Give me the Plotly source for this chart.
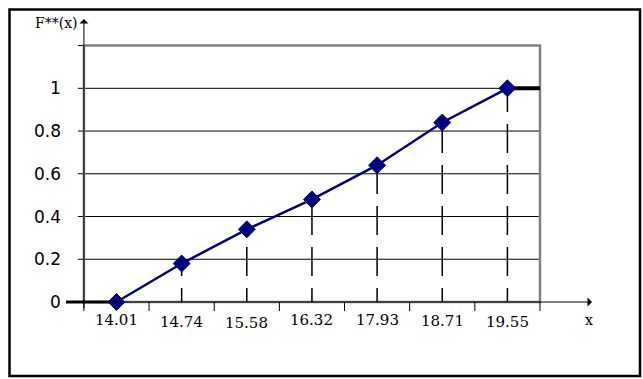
import plotly.graph_objects as go

# ---- data ----
x_labels = ["14.01", "14.74", "15.58", "16.32", "17.93", "18.71", "19.55"]
F_values = [0.0, 0.18, 0.34, 0.48, 0.64, 0.84, 1.0]
y_ticks = [0, 0.2, 0.4, 0.6, 0.8, 1]
y_tick_text = ["0", "0.2", "0.4", "0.6", "0.8", "1"]
y_top = 1.2
y_title = "F**(x)"
x_title = "x"

# ---- geometry (pixels of the 643x379 canvas) ----
W, H = 643, 379
X0_PX = 116.5   # centre of first category
DX_PX = 65.15   # width of one category
Y0_PX = 302.0   # pixel row of F = 0
DY_PX = 213.7   # pixels per unit of F


def xd(px):
    return (px - X0_PX) / DX_PX


def yd(py):
    return (Y0_PX - py) / DY_PX


n = len(x_labels)
idx = list(range(n))
left = -0.5
right = n - 0.5
tick_x = 6 / DX_PX
tick_y = 9 / DY_PX

NAVY = "#000080"
GRAY = "#808080"
DROP_DASH = "14px,12px,29px,12px,29px,12px,29px,12px,29px,12px,29px,12px"

fig = go.Figure()

# step extensions of the distribution function
fig.add_trace(go.Scatter(x=[xd(66), idx[0]], y=[F_values[0], F_values[0]], mode="lines",
                         line=dict(color="black", width=3), hoverinfo="skip"))
fig.add_trace(go.Scatter(x=[idx[-1], right], y=[F_values[-1], F_values[-1]], mode="lines",
                         line=dict(color="black", width=4), hoverinfo="skip"))
# polygon
fig.add_trace(go.Scatter(x=idx, y=F_values, mode="lines+markers",
                         line=dict(color=NAVY, width=2.5),
                         marker=dict(symbol="diamond", size=13, color=NAVY,
                                     line=dict(color=NAVY, width=1))))

shapes = []
# outer frame
shapes.append(dict(type="rect", xref="paper", yref="paper",
                   x0=9.5 / W, x1=640 / W, y0=1 - 376 / H, y1=1 - 9.5 / H,
                   line=dict(color="black", width=2.5), fillcolor="rgba(0,0,0,0)"))
# gridlines + y ticks
for v in y_ticks[1:]:
    shapes.append(dict(type="line", xref="x", yref="y", x0=left - tick_x, x1=right, y0=v, y1=v,
                       line=dict(color="black", width=1), layer="below"))
shapes.append(dict(type="line", xref="x", yref="y", x0=left - tick_x, x1=left, y0=y_top, y1=y_top,
                   line=dict(color="black", width=1), layer="below"))
# gray plot frame
shapes.append(dict(type="rect", xref="x", yref="y", x0=left, x1=right, y0=0, y1=y_top,
                   line=dict(color=GRAY, width=2.5), layer="below"))
# x ticks
for k in range(n + 1):
    shapes.append(dict(type="line", xref="x", yref="y", x0=k - 0.5, x1=k - 0.5, y0=0, y1=-tick_y,
                       line=dict(color="black", width=1), layer="below"))
# dashed drop lines (pattern anchored at the x axis)
for i in idx[1:]:
    shapes.append(dict(type="line", xref="x", yref="y", x0=i, x1=i, y0=0, y1=F_values[i],
                       line=dict(color="black", width=1.5, dash=DROP_DASH), layer="below"))

annotations = []
# axes with arrows
annotations.append(dict(x=left, y=yd(19), ax=left, ay=yd(310), xref="x", yref="y",
                        axref="x", ayref="y", text="", showarrow=True, arrowhead=1,
                        arrowsize=1.5, arrowwidth=1, arrowcolor="black", standoff=0))
annotations.append(dict(x=xd(592), y=0, ax=left, ay=0, xref="x", yref="y",
                        axref="x", ayref="y", text="", showarrow=True, arrowhead=1,
                        arrowsize=1.5, arrowwidth=1, arrowcolor="black", standoff=0))
# y tick labels
for v, t in zip(y_ticks, y_tick_text):
    annotations.append(dict(x=xd(62.5), y=v, xref="x", yref="y", text=t, showarrow=False,
                            xanchor="right", yanchor="middle",
                            font=dict(family="DejaVu Sans", size=17, color="black")))
# x tick labels
label_dy = [0, -2, -2.5, 0, 0.5, -1, -2]
for i, t in enumerate(x_labels):
    annotations.append(dict(x=i, y=yd(320), xref="x", yref="y", text=t, showarrow=False,
                            xanchor="center", yanchor="middle", yshift=label_dy[i],
                            font=dict(family="DejaVu Serif", size=15, color="black")))
# axis titles
annotations.append(dict(x=xd(56.5), y=yd(23), xref="x", yref="y", text=y_title, showarrow=False,
                        xanchor="center", yanchor="middle",
                        font=dict(family="DejaVu Serif", size=14, color="black")))
annotations.append(dict(x=xd(588.5), y=yd(320), xref="x", yref="y", text=x_title, showarrow=False,
                        xanchor="center", yanchor="middle",
                        font=dict(family="DejaVu Serif", size=14, color="black")))

fig.update_layout(
    width=W, height=H,
    margin=dict(l=0, r=0, t=0, b=0),
    paper_bgcolor="white", plot_bgcolor="white",
    showlegend=False,
    xaxis=dict(range=[xd(0), xd(W)], visible=False, fixedrange=True),
    yaxis=dict(range=[yd(H), yd(0)], visible=False, fixedrange=True),
    shapes=shapes,
    annotations=annotations,
)

fig.write_html("out.html")
